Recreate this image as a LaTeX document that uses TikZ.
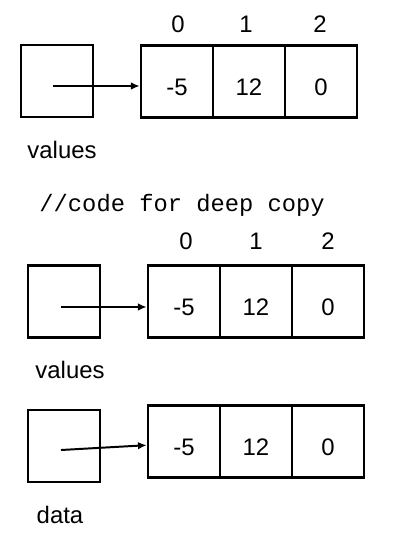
\documentclass[tikz,border=0pt]{standalone}
\usepackage{fontspec}
\setmainfont{Liberation Sans}
\setmonofont{Liberation Mono}
\usetikzlibrary{arrows.meta}
\tikzset{
  ptrbox/.style={draw, line width=1.8pt, minimum size=1.8cm, inner sep=0pt},
  cellbox/.style={draw, line width=1.8pt, minimum width=1.8cm, minimum height=1.8cm, inner sep=0pt, text height=0.7cm, text depth=0pt, font=\fontsize{17}{20}\selectfont},
  idxlabel/.style={inner sep=0pt, font=\fontsize{17}{20}\selectfont},
  namelabel/.style={inner sep=0pt, font=\fontsize{17}{20}\selectfont},
  codeline/.style={inner sep=0pt, anchor=west, font=\ttfamily\fontsize{16.9}{20}\selectfont},
  refline/.style={-{Latex[length=2.2mm, width=1.9mm]}, line width=1.4pt},
}
\begin{document}
\begin{tikzpicture}
  \useasboundingbox (0,0) rectangle (10,-13.65);
  % first reference and its array
  \node[ptrbox] (vals1) at (1.425,-2.025) {};
  \node[cellbox] (a0) at (4.425,-2.04) {-5};
  \node[cellbox] (a1) at (6.225,-2.04) {12};
  \node[cellbox] (a2) at (8.025,-2.04) {0};
  \node[idxlabel] (ia0) at (4.45,-0.61) {0};
  \node[idxlabel] (ia1) at (6.15,-0.61) {1};
  \node[idxlabel] (ia2) at (8.0,-0.61) {2};
  \node[namelabel] (n1) at (1.55,-3.75) {values};
  \coordinate (s1) at (1.325,-2.15);
  \draw[refline] (s1) -- (s1 -| a0.west);
  % deep copy
  \node[codeline] (code) at (0.98,-5.13) {//code for deep copy};
  \node[ptrbox] (vals2) at (1.6,-7.54) {};
  \node[cellbox] (b0) at (4.6,-7.54) {-5};
  \node[cellbox] (b1) at (6.4,-7.54) {12};
  \node[cellbox] (b2) at (8.2,-7.54) {0};
  \node[idxlabel] (ib0) at (4.65,-6.04) {0};
  \node[idxlabel] (ib1) at (6.4,-6.04) {1};
  \node[idxlabel] (ib2) at (8.2,-6.04) {2};
  \node[namelabel] (n2) at (1.75,-9.25) {values};
  \coordinate (s2) at (1.525,-7.675);
  \draw[refline] (s2) -- (s2 -| b0.west);
  \node[ptrbox] (data) at (1.6,-11.15) {};
  \node[cellbox] (c0) at (4.6,-11.04) {-5};
  \node[cellbox] (c1) at (6.4,-11.04) {12};
  \node[cellbox] (c2) at (8.2,-11.04) {0};
  \node[namelabel] (n3) at (1.5,-12.875) {data};
  \coordinate (s3) at (1.525,-11.25);
  \draw[refline] (s3) -- ([yshift=-0.09cm]c0.west);
\end{tikzpicture}
\end{document}
